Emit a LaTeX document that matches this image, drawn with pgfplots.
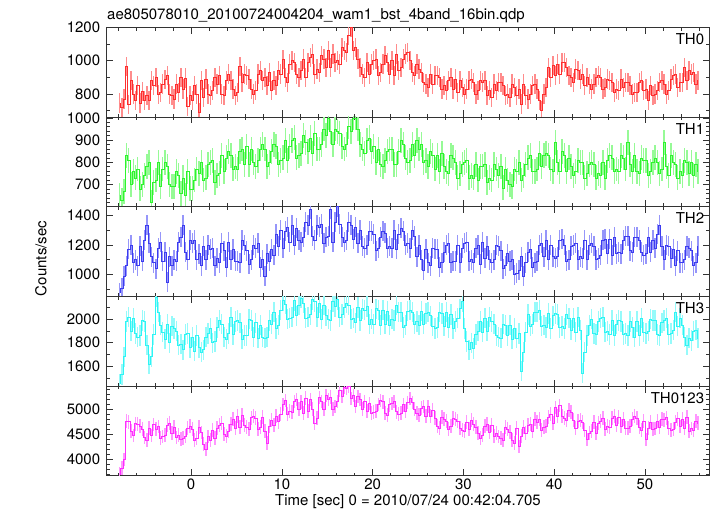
\documentclass[border=0pt]{standalone}
\usepackage{fontspec}
\setmainfont{TeX Gyre Heros}
\usepackage{pgfplots}
\usepackage{pgfplotstable}
\pgfplotsset{compat=1.18}
\definecolor{cR}{RGB}{255,45,45}
\definecolor{cRl}{RGB}{255,140,140}
\definecolor{cG}{RGB}{45,245,45}
\definecolor{cGl}{RGB}{150,250,150}
\definecolor{cB}{RGB}{60,60,240}
\definecolor{cBl}{RGB}{150,150,250}
\definecolor{cC}{RGB}{45,245,245}
\definecolor{cCl}{RGB}{150,250,250}
\definecolor{cM}{RGB}{255,45,255}
\definecolor{cMl}{RGB}{255,150,255}

\pgfplotstableread[row sep=\\]{y\\
745\\720\\770\\965\\ 735\\880\\800\\760\\ 850\\745\\815\\760\\ 790\\760\\880\\850\\
900\\795\\810\\860\\ 885\\910\\800\\790\\ 770\\860\\810\\900\\ 830\\895\\725\\790\\
760\\850\\800\\690\\ 880\\780\\890\\800\\ 790\\820\\900\\860\\ 910\\800\\790\\880\\
920\\880\\830\\790\\ 810\\965\\870\\920\\ 910\\890\\830\\800\\ 820\\920\\940\\880\\
900\\850\\930\\820\\ 880\\850\\940\\920\\ 1005\\900\\870\\980\\ 1000\\990\\920\\900\\
940\\1010\\900\\990\\ 1020\\1040\\920\\950\\ 930\\1030\\1010\\960\\ 1060\\960\\1040\\990\\
1000\\980\\1080\\1060\\ 1050\\1150\\1200\\1060\\ 1080\\1010\\960\\920\\ 900\\990\\920\\980\\
1000\\1010\\910\\930\\ 980\\1030\\990\\920\\ 1000\\910\\1040\\940\\ 960\\1010\\1040\\1050\\
1000\\930\\910\\980\\ 950\\930\\870\\860\\ 840\\920\\860\\910\\ 910\\900\\830\\850\\
820\\880\\900\\830\\ 890\\810\\880\\840\\ 800\\830\\880\\890\\ 870\\800\\820\\880\\
870\\880\\790\\820\\ 780\\860\\820\\870\\ 870\\850\\790\\800\\ 780\\860\\840\\790\\
830\\740\\860\\790\\ 770\\800\\850\\860\\ 830\\760\\700\\800\\ 840\\960\\900\\970\\
910\\980\\920\\990\\ 990\\960\\910\\900\\ 870\\950\\940\\890\\ 920\\850\\900\\860\\
830\\860\\900\\910\\ 900\\830\\840\\890\\ 880\\870\\810\\830\\ 820\\890\\840\\870\\
870\\850\\800\\810\\ 810\\870\\880\\820\\ 830\\760\\850\\790\\ 800\\820\\870\\880\\
860\\800\\820\\890\\ 910\\920\\840\\870\\ 870\\960\\880\\940\\ 920\\930\\860\\880\\
}\thzero

\pgfplotstableread[row sep=\\]{y\\
650\\630\\670\\830\\ 810\\700\\760\\730\\ 770\\680\\700\\740\\ 780\\800\\620\\710\\
720\\800\\690\\770\\ 800\\780\\700\\690\\ 690\\760\\740\\660\\ 730\\650\\760\\680\\
680\\720\\770\\750\\ 800\\720\\730\\790\\ 800\\810\\710\\740\\ 750\\830\\760\\820\\
850\\830\\770\\780\\ 770\\850\\860\\790\\ 870\\790\\860\\800\\ 780\\810\\860\\880\\
860\\780\\800\\850\\ 880\\870\\790\\810\\ 820\\900\\810\\870\\ 900\\910\\820\\830\\
840\\920\\890\\850\\ 910\\840\\930\\860\\ 860\\880\\950\\920\\ 1000\\940\\880\\950\\
940\\930\\870\\860\\ 880\\960\\940\\1000\\ 1000\\950\\880\\860\\ 840\\900\\910\\850\\
870\\800\\860\\790\\ 780\\810\\850\\860\\ 860\\790\\790\\850\\ 900\\880\\820\\800\\
810\\880\\830\\900\\ 860\\880\\800\\810\\ 780\\850\\830\\770\\ 830\\760\\840\\780\\
760\\750\\830\\820\\ 800\\730\\750\\790\\ 800\\810\\730\\740\\ 730\\790\\720\\780\\
780\\790\\710\\730\\ 720\\790\\770\\740\\ 780\\685\\770\\720\\ 700\\690\\770\\760\\
800\\720\\740\\790\\ 820\\830\\760\\760\\ 770\\840\\780\\830\\ 840\\830\\770\\760\\
890\\800\\760\\850\\ 830\\760\\820\\780\\ 740\\760\\810\\800\\ 800\\730\\750\\790\\
800\\790\\730\\750\\ 740\\800\\730\\810\\ 830\\820\\760\\770\\ 760\\830\\820\\770\\
890\\790\\760\\830\\ 760\\750\\820\\810\\ 810\\740\\760\\800\\ 820\\800\\750\\770\\
890\\780\\740\\830\\ 800\\790\\730\\760\\ 740\\810\\800\\750\\ 800\\740\\790\\760\\
}\thone

\pgfplotstableread[row sep=\\]{y\\
880\\910\\990\\1060\\ 1170\\1200\\1080\\1100\\ 1060\\1190\\1090\\1230\\ 1330\\1210\\1120\\1080\\
1040\\1180\\1220\\1090\\ 1150\\950\\1120\\1060\\ 1100\\1090\\1220\\1250\\ 1330\\1150\\1100\\1230\\
1210\\1230\\1100\\1140\\ 1060\\1190\\1100\\1200\\ 1170\\1180\\1060\\1110\\ 1080\\1210\\1160\\1050\\
1220\\1100\\1170\\1090\\ 1090\\1080\\1230\\1200\\ 1160\\1070\\1100\\1200\\ 1180\\1210\\1050\\1100\\
990\\1140\\1090\\1170\\ 1130\\1270\\1190\\1300\\ 1180\\1290\\1320\\1220\\ 1330\\1200\\1310\\1230\\
1220\\1250\\1350\\1330\\ 1440\\1260\\1230\\1330\\ 1320\\1340\\1210\\1250\\ 1260\\1440\\1220\\1350\\
1455\\1340\\1250\\1220\\ 1230\\1350\\1330\\1240\\ 1320\\1210\\1300\\1190\\ 1180\\1200\\1290\\1290\\
1270\\1160\\1180\\1250\\ 1290\\1280\\1180\\1190\\ 1180\\1300\\1170\\1270\\ 1310\\1290\\1200\\1210\\
1180\\1300\\1260\\1120\\ 1200\\1100\\1030\\1170\\ 1080\\1060\\1180\\1170\\ 1170\\1050\\1080\\1150\\
1200\\1210\\1080\\1090\\ 1090\\1200\\1080\\1180\\ 1210\\1220\\1090\\1100\\ 1080\\1180\\1200\\1070\\
1220\\1110\\1190\\1100\\ 1080\\1100\\1200\\1190\\ 1160\\1040\\1060\\1140\\ 1090\\1100\\1000\\1010\\
1030\\1120\\990\\1080\\ 1150\\1170\\1050\\1080\\ 1090\\1200\\1210\\1120\\ 1230\\1100\\1200\\1120\\
1110\\1120\\1230\\1240\\ 1200\\1090\\1100\\1190\\ 1200\\1210\\1100\\1120\\ 1110\\1230\\1100\\1200\\
1210\\1190\\1100\\1110\\ 1130\\1230\\1240\\1140\\ 1240\\1130\\1250\\1140\\ 1150\\1140\\1230\\1260\\
1260\\1160\\1150\\1250\\ 1250\\1230\\1150\\1130\\ 1140\\1250\\1150\\1230\\ 1180\\1270\\1330\\1190\\
1100\\1200\\1190\\1110\\ 1170\\1060\\1160\\1080\\ 1080\\1100\\1190\\1180\\ 1160\\1060\\1080\\1190\\
}\thtwo

\pgfplotstableread[row sep=\\]{y\\
1450\\1530\\1680\\1980\\ 2020\\1900\\2010\\1880\\ 1850\\1860\\1990\\1980\\ 1780\\1620\\1680\\1870\\
2190\\2060\\1950\\1890\\ 1830\\1960\\1800\\1940\\ 1920\\1900\\1780\\1790\\ 1740\\1870\\1880\\1760\\
1850\\1730\\1860\\1760\\ 1720\\1740\\1850\\1880\\ 1920\\1800\\1810\\1930\\ 1990\\1960\\1850\\1830\\
1880\\2020\\1870\\1980\\ 1990\\1970\\1830\\1860\\ 1860\\2000\\1990\\1850\\ 1970\\1840\\1950\\1850\\
1840\\1850\\1990\\1960\\ 2060\\1920\\1950\\2080\\ 2160\\2130\\2000\\2010\\ 2020\\2160\\2030\\2120\\
2180\\2140\\2010\\2020\\ 2040\\2170\\2150\\2020\\ 2140\\2000\\2120\\2030\\ 2000\\1990\\2150\\2110\\
2170\\2020\\2040\\2100\\ 2140\\2120\\2000\\2010\\ 1970\\2100\\1990\\2090\\ 2080\\2110\\1960\\2000\\
1960\\2090\\2080\\1950\\ 2080\\1960\\2070\\1950\\ 2000\\1990\\2120\\2060\\ 2060\\1930\\1950\\2070\\
2080\\2060\\1960\\1980\\ 1950\\2070\\1960\\2050\\ 2060\\2030\\1940\\1920\\ 1930\\2060\\2050\\1940\\
2060\\1930\\2040\\1920\\ 1980\\2010\\2090\\2150\\ 1920\\1810\\1740\\1800\\ 1750\\1870\\1900\\1980\\
1890\\2010\\1900\\2020\\ 1980\\1960\\1860\\1850\\ 1840\\1960\\1950\\1860\\ 1950\\1830\\1920\\1840\\
1880\\1560\\1720\\1890\\ 2040\\1940\\1960\\2060\\ 2060\\2080\\1940\\1950\\ 1930\\2050\\1920\\2030\\
2050\\2040\\1930\\1940\\ 1920\\2040\\2010\\1910\\ 2010\\1890\\2020\\1910\\ 1540\\1720\\1860\\1950\\
2000\\1880\\1870\\1980\\ 2010\\2020\\1890\\1900\\ 1870\\1990\\1860\\1960\\ 1990\\1980\\1870\\1880\\
1860\\1980\\1930\\1850\\ 1980\\1860\\2010\\1890\\ 1880\\1900\\2000\\1990\\ 1990\\1870\\1860\\1970\\
1990\\2010\\1870\\1880\\ 1910\\2060\\1940\\2010\\ 1950\\1850\\1780\\1840\\ 1820\\1900\\1910\\1840\\
}\ththree

\pgfplotstableread[row sep=\\]{y\\
3700\\3820\\3990\\4760\\ 4750\\4560\\4470\\4710\\ 4700\\4660\\4600\\4430\\ 4380\\4620\\4470\\4690\\
4600\\4650\\4420\\4450\\ 4480\\4680\\4720\\4520\\ 4640\\4430\\4480\\4400\\ 4420\\4460\\4620\\4660\\
4600\\4380\\4420\\4640\\ 4530\\4300\\4200\\4450\\ 4380\\4580\\4420\\4620\\ 4680\\4720\\4500\\4460\\
4560\\4700\\4800\\4620\\ 4860\\4640\\4880\\4680\\ 4640\\4600\\4830\\4860\\ 4820\\4600\\4640\\4840\\
4560\\4320\\4660\\4780\\ 4680\\4860\\4750\\4900\\ 5100\\5180\\4900\\4960\\ 4940\\5160\\5200\\5000\\
5150\\4920\\5230\\4960\\ 5200\\5000\\4720\\4820\\ 5240\\5160\\5000\\5280\\ 5200\\5250\\5000\\5060\\
5160\\5380\\5260\\5440\\ 5430\\5460\\5220\\5280\\ 5060\\5260\\5200\\5000\\ 5160\\4960\\5120\\4920\\
4940\\4960\\5100\\5180\\ 5150\\4920\\4880\\5090\\ 5120\\5160\\4950\\4900\\ 4920\\5090\\4960\\5140\\
5220\\5140\\5000\\4920\\ 4880\\5020\\5060\\4860\\ 5060\\4860\\4980\\4820\\ 4660\\4620\\4840\\4800\\
4760\\4600\\4660\\4820\\ 4800\\4760\\4620\\4580\\ 4560\\4740\\4600\\4780\\ 4700\\4640\\4520\\4420\\
4480\\4660\\4700\\4540\\ 4680\\4460\\4520\\4450\\ 4420\\4380\\4640\\4600\\ 4540\\4380\\4320\\4620\\
4250\\4460\\4640\\4520\\ 4680\\4700\\4560\\4800\\ 4740\\4800\\4580\\4640\\ 4660\\4840\\4900\\4720\\
5040\\4860\\5080\\4860\\ 4820\\4780\\4980\\4940\\ 4780\\4620\\4760\\4780\\ 4740\\4580\\4390\\4520\\
4560\\4740\\4520\\4720\\ 4760\\4820\\4600\\4660\\ 4640\\4820\\4860\\4680\\ 4840\\4660\\4800\\4620\\
4620\\4660\\4800\\4860\\ 4820\\4640\\4580\\4760\\ 4390\\4620\\4740\\4600\\ 4610\\4760\\4640\\4800\\
4790\\4830\\4620\\4580\\ 4600\\4740\\4810\\4650\\ 4800\\4620\\4840\\4560\\ 4610\\4580\\4760\\4720\\
}\thall

\pgfplotsset{
 panel/.style={
  scale only axis, width=602.6pt, height=89.7pt,
  xmin=-9.3, xmax=57.1,
  xtick={0,10,20,30,40,50}, minor xtick={-8,-6,...,56},
  xticklabels={},
  tick align=inside, xtick pos=both, ytick pos=both, yticklabel pos=left,
  major tick length=6.5pt, minor tick length=3.3pt,
  axis line style={line width=0.9pt, black!80},
  every tick/.append style={black!80, line width=0.6pt},
  tick label style={font=\fontsize{15}{18}\selectfont},
  yticklabel style={xshift=-3pt},
  /pgf/number format/assume math mode=true,
  /pgf/number format/1000 sep={},
  scaled y ticks=false,
  anchor=north west,
 },
 ebar/.style n args={2}{draw=none, mark=none, forget plot,
   error bars/.cd, y dir=both, y fixed=#1, error mark=none,
   error bar style={draw=#2, line width=1.4pt}},
 stp/.style={const plot mark mid, mark=none, draw=#1, line width=0.6pt},
}
\tikzset{pl/.style={anchor=north east, font=\fontsize{15}{18}\selectfont, inner sep=0pt, xshift=-5pt, yshift=-6pt}}

\begin{document}
\begin{tikzpicture}[x=1pt,y=1pt]
\useasboundingbox (0,0) rectangle (717,516);
\node[anchor=base west, inner sep=0pt, font=\fontsize{15}{18}\selectfont] at (107,496.5) {ae805078010\_20100724004204\_wam1\_bst\_4band\_16bin.qdp};
\node[rotate=90, inner sep=0pt, font=\fontsize{15}{18}\selectfont] at (41,257.5) {Counts/sec};

\begin{axis}[panel, at={(106.7pt,488.7pt)}, ymin=661, ymax=1200,
  ytick={800,1000,1200}, minor ytick={700,900,1100}]
\addplot[ebar={58}{cRl}] table[x expr=\coordindex*0.25-7.875, y=y] {\thzero};
\addplot[stp=cR] table[x expr=\coordindex*0.25-7.875, y=y] {\thzero};
\node[pl] at (rel axis cs:1,1) {TH0};
\end{axis}

\begin{axis}[panel, at={(106.7pt,399.0pt)}, ymin=600, ymax=1004,
  ytick={700,800,900,1000}, minor ytick={620,640,...,1000}]
\addplot[ebar={56}{cGl}] table[x expr=\coordindex*0.25-7.875, y=y] {\thone};
\addplot[stp=cG] table[x expr=\coordindex*0.25-7.875, y=y] {\thone};
\node[pl] at (rel axis cs:1,1) {TH1};
\end{axis}

\begin{axis}[panel, at={(106.7pt,309.3pt)}, ymin=855, ymax=1455,
  ytick={1000,1200,1400}, minor ytick={900,1100,1300}]
\addplot[ebar={67}{cBl}] table[x expr=\coordindex*0.25-7.875, y=y] {\thtwo};
\addplot[stp=cB] table[x expr=\coordindex*0.25-7.875, y=y] {\thtwo};
\node[pl] at (rel axis cs:1,1) {TH2};
\end{axis}

\begin{axis}[panel, at={(106.7pt,219.6pt)}, ymin=1430, ymax=2195,
  ytick={1600,1800,2000}, minor ytick={1500,1700,1900,2100}]
\addplot[ebar={87}{cCl}] table[x expr=\coordindex*0.25-7.875, y=y] {\ththree};
\addplot[stp=cC] table[x expr=\coordindex*0.25-7.875, y=y] {\ththree};
\node[pl] at (rel axis cs:1,1) {TH3};
\end{axis}

\begin{axis}[panel, at={(106.7pt,129.9pt)}, ymin=3665, ymax=5465,
  ytick={4000,4500,5000}, minor ytick={3700,3800,...,5400},
  xticklabels={0,10,20,30,40,50}, xticklabel pos=lower,
  xlabel={Time [sec] 0 = 2010/07/24 00:42:04.705},
  xlabel style={font=\fontsize{15}{18}\selectfont, yshift=2pt}]
\addplot[ebar={136}{cMl}] table[x expr=\coordindex*0.25-7.875, y=y] {\thall};
\addplot[stp=cM] table[x expr=\coordindex*0.25-7.875, y=y] {\thall};
\node[pl] at (rel axis cs:1,1) {TH0123};
\end{axis}
\end{tikzpicture}
\end{document}
